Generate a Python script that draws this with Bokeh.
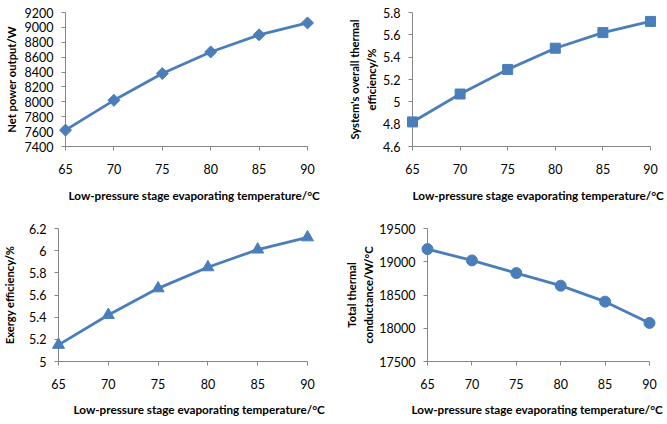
import math
from bokeh.plotting import figure
from bokeh.layouts import column, row
from bokeh.models import FixedTicker, NumeralTickFormatter, Range1d, Title
from bokeh.embed import file_html
from bokeh.resources import INLINE

# ---- data ----
temps = [65, 70, 75, 80, 85, 90]
net_power = [7620, 8020, 8380, 8670, 8900, 9060]
thermal_eff = [4.82, 5.07, 5.29, 5.48, 5.62, 5.72]
exergy_eff = [5.15, 5.42, 5.66, 5.85, 6.01, 6.12]
conductance = [19190, 19020, 18830, 18640, 18400, 18080]

x_ticks = [65, 70, 75, 80, 85, 90]
power_ticks = [7400, 7600, 7800, 8000, 8200, 8400, 8600, 8800, 9000, 9200]
thermal_ticks = [4.6, 4.8, 5.0, 5.2, 5.4, 5.6, 5.8]
exergy_ticks = [5.0, 5.2, 5.4, 5.6, 5.8, 6.0, 6.2]
cond_ticks = [17500, 18000, 18500, 19000, 19500]

x_title = "Low-pressure stage evaporating temperature/°C"
y_titles = ["Net power output/W", "System's overall thermal\nefficiency/%",
            "Exergy efficiency/%", "Total thermal\nconductance/W/°C"]

BLUE = "#4a7ebb"
AXIS = "#868686"
FONT = "Lato"


def panel(yvals, yticks, ytitle, fmt, marker, msize, angle,
          w, h, bl, br, bt, bb, toff, tstand, ystand):
    p = figure(output_backend="svg", toolbar_location=None,
               width=w, height=h,
               min_border_left=bl, min_border_right=br,
               min_border_top=bt, min_border_bottom=bb,
               x_range=Range1d(x_ticks[0], x_ticks[-1]),
               y_range=Range1d(yticks[0], yticks[-1]))
    p.outline_line_color = None
    p.grid.visible = False
    p.background_fill_color = "white"
    p.border_fill_color = "white"
    for ax in (p.xaxis[0], p.yaxis[0]):
        ax.axis_line_color = AXIS
        ax.major_tick_line_color = AXIS
        ax.minor_tick_line_color = None
        ax.major_tick_in = 0
        ax.major_tick_out = 4
        ax.major_label_text_font = FONT
        ax.major_label_text_font_size = "12.5px"
        ax.major_label_text_color = "#000000"
    p.xaxis.ticker = FixedTicker(ticks=x_ticks)
    p.xaxis.major_label_standoff = 13
    p.yaxis.ticker = FixedTicker(ticks=yticks)
    p.yaxis.formatter = NumeralTickFormatter(format=fmt)
    p.yaxis.major_label_standoff = 8
    p.yaxis.axis_label = ytitle
    p.yaxis.axis_label_text_font = FONT
    p.yaxis.axis_label_text_font_style = "bold"
    p.yaxis.axis_label_text_font_size = "11.2px"
    p.yaxis.axis_label_text_color = "#000000"
    p.yaxis.axis_label_text_line_height = 1.3
    p.yaxis.axis_label_standoff = ystand
    p.add_layout(Title(text=x_title, align="left", offset=toff, standoff=tstand,
                       text_font=FONT, text_font_style="bold",
                       text_font_size="11.7px", text_color="#000000"), "below")
    p.line(temps, yvals, line_color=BLUE, line_width=2.8, level="overlay")
    p.scatter(temps, yvals, marker=marker, size=msize, angle=angle,
              fill_color=BLUE, line_color=BLUE, level="overlay")
    return p


p1 = panel(net_power, power_ticks, y_titles[0], "0", "square", 8.5, math.pi / 4,
           330, 210, 65, 23, 12, 63, 3, 18, 4)
p2 = panel(thermal_eff, thermal_ticks, y_titles[1], "0.[0]", "square", 10, 0,
           337, 210, 82, 17, 11, 63, 0, 18, 2)
p3 = panel(exergy_eff, exergy_ticks, y_titles[2], "0.[0]", "triangle", 12, 0,
           330, 214, 55, 23, 18, 62, 15, 17, 10)
p4 = panel(conductance, cond_ticks, y_titles[3], "0", "circle", 11, 0,
           337, 214, 97, 18, 18, 62, -16, 17, 1)

layout = column(row(p1, p2, spacing=0), row(p3, p4, spacing=0), spacing=0)

open("out.html", "w").write(file_html(layout, INLINE))
